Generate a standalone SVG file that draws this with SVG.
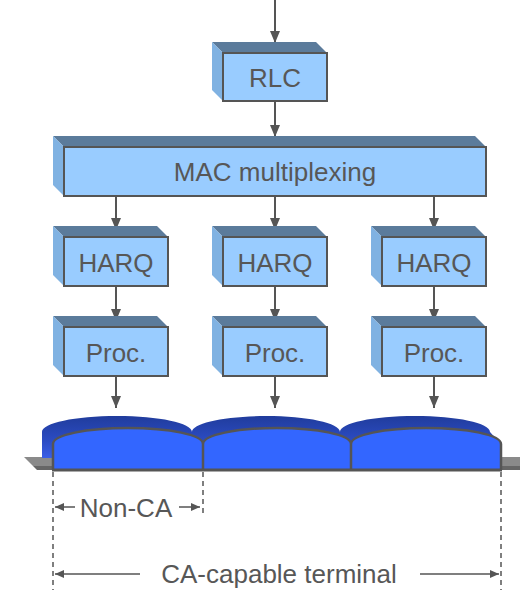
<svg xmlns="http://www.w3.org/2000/svg" width="520" height="590" viewBox="0 0 520 590">
<style>
.front{fill:#99ccff;stroke:#555;stroke-width:2}
.top{fill:#5b7b9b}
.side{fill:#80b2e2}
.lbl{font-family:"Liberation Sans",Arial,sans-serif;font-size:26px;fill:#575757;text-anchor:middle}
.conn{stroke:#555;stroke-width:2;fill:none;marker-end:url(#ah)}
.dash{stroke:#555;stroke-width:1.5;stroke-dasharray:5,4;fill:none}
.dim{stroke:#555;stroke-width:1.5;fill:none;marker-end:url(#sh)}
.cfront{fill:#3366ff}
.cback{fill:url(#dk)}
.cline{stroke:#555;stroke-width:2.5;fill:none}
</style>
<defs>
<marker id="ah" markerUnits="userSpaceOnUse" markerWidth="12" markerHeight="10" refX="12" refY="5" orient="auto"><path d="M0,0 L12,5 L0,10 Z" fill="#555"/></marker>
<marker id="sh" markerUnits="userSpaceOnUse" markerWidth="9" markerHeight="8" refX="9" refY="4" orient="auto"><path d="M0,0 L9,4 L0,8 Z" fill="#555"/></marker>
<linearGradient id="dk" x1="0" y1="0" x2="0" y2="1"><stop offset="0" stop-color="#203c9c"/><stop offset="0.6" stop-color="#2c4cc4"/><stop offset="1" stop-color="#3a5ee6"/></linearGradient>
</defs>

<g id="connectors">
<line class="conn" x1="275" y1="0" x2="275" y2="43"/>
<line class="conn" x1="275" y1="101" x2="275" y2="137"/>
<line class="conn" x1="116" y1="196" x2="116" y2="230"/>
<line class="conn" x1="275" y1="196" x2="275" y2="230"/>
<line class="conn" x1="434" y1="196" x2="434" y2="230"/>
<line class="conn" x1="116" y1="286" x2="116" y2="321"/>
<line class="conn" x1="275" y1="286" x2="275" y2="321"/>
<line class="conn" x1="434" y1="286" x2="434" y2="321"/>
<line class="conn" x1="116" y1="376" x2="116" y2="408"/>
<line class="conn" x1="275" y1="376" x2="275" y2="408"/>
<line class="conn" x1="434" y1="376" x2="434" y2="408"/>
</g>

<g id="rlc">
<polygon class="top" points="212,42 316,42 327,53 223,53"/>
<polygon class="side" points="212,42 223,53 223,101 212,90"/>
<rect class="front" x="223" y="53" width="104" height="48"/>
<text class="lbl" x="275" y="87">RLC</text>
</g>

<g id="mac">
<polygon class="top" points="53,136 475,136 486,147 64,147"/>
<polygon class="side" points="53,136 64,147 64,196 53,185"/>
<rect class="front" x="64" y="147" width="422" height="49"/>
<text class="lbl" x="275" y="181">MAC multiplexing</text>
</g>

<g id="harq1">
<polygon class="top" points="53,226 157,226 168,237 64,237"/>
<polygon class="side" points="53,226 64,237 64,286 53,275"/>
<rect class="front" x="64" y="237" width="104" height="49"/>
<text class="lbl" x="116" y="272">HARQ</text>
</g>
<g id="harq2">
<polygon class="top" points="212,226 316,226 327,237 223,237"/>
<polygon class="side" points="212,226 223,237 223,286 212,275"/>
<rect class="front" x="223" y="237" width="104" height="49"/>
<text class="lbl" x="275" y="272">HARQ</text>
</g>
<g id="harq3">
<polygon class="top" points="371,226 475,226 486,237 382,237"/>
<polygon class="side" points="371,226 382,237 382,286 371,275"/>
<rect class="front" x="382" y="237" width="104" height="49"/>
<text class="lbl" x="434" y="272">HARQ</text>
</g>

<g id="proc1">
<polygon class="top" points="53,316 157,316 168,327 64,327"/>
<polygon class="side" points="53,316 64,327 64,376 53,365"/>
<rect class="front" x="64" y="327" width="104" height="49"/>
<text class="lbl" x="116" y="362">Proc.</text>
</g>
<g id="proc2">
<polygon class="top" points="212,316 316,316 327,327 223,327"/>
<polygon class="side" points="212,316 223,327 223,376 212,365"/>
<rect class="front" x="223" y="327" width="104" height="49"/>
<text class="lbl" x="275" y="362">Proc.</text>
</g>
<g id="proc3">
<polygon class="top" points="371,316 475,316 486,327 382,327"/>
<polygon class="side" points="371,316 382,327 382,376 371,365"/>
<rect class="front" x="382" y="327" width="104" height="49"/>
<text class="lbl" x="434" y="362">Proc.</text>
</g>

<g id="carriers">
<polygon points="24,457 520,457 520,466 33,466" fill="#8a8a8a"/>
<polygon points="33,466 520,466 520,470 37,470" fill="#666"/>
<path class="cback" d="M42,458 V432 C42,423 75,416 117,416 C159,416 192,423 192,432 L203,444 V458 Z"/>
<path class="cback" d="M192,458 V432 C192,423 225,416 266,416 C307,416 340,423 340,432 L351,444 V458 Z"/>
<path class="cback" d="M340,458 V432 C340,423 373,416 415,416 C457,416 490,423 490,432 L501,444 V458 Z"/>
<path class="cfront" d="M53,470 V444 C53,435 86,428 128,428 C170,428 203,435 203,444 V470 Z"/>
<path class="cfront" d="M203,470 V444 C203,435 236,428 277,428 C318,428 351,435 351,444 V470 Z"/>
<path class="cfront" d="M351,470 V444 C351,435 384,428 426,428 C468,428 501,435 501,444 V470 Z"/>
<path class="cline" d="M53,470 V444 C53,435 86,428 128,428 C170,428 203,435 203,444 C203,435 236,428 277,428 C318,428 351,435 351,444 C351,435 384,428 426,428 C468,428 501,435 501,444 V470 M203,444 V470 M351,444 V470"/>
<line x1="52" y1="470" x2="502" y2="470" stroke="#555" stroke-width="3"/>
</g>

<g id="dimensions">
<line class="dash" x1="53" y1="472" x2="53" y2="590"/>
<line class="dash" x1="203" y1="472" x2="203" y2="516"/>
<line class="dash" x1="501" y1="472" x2="501" y2="590"/>
<line class="dim" x1="75" y1="507" x2="55" y2="507"/>
<line class="dim" x1="179" y1="507" x2="200" y2="507"/>
<text class="lbl" x="126" y="517">Non-CA</text>
<line class="dim" x1="140" y1="574" x2="55" y2="574"/>
<line class="dim" x1="420" y1="574" x2="499" y2="574"/>
<text class="lbl" x="279" y="583">CA-capable terminal</text>
</g>
</svg>
